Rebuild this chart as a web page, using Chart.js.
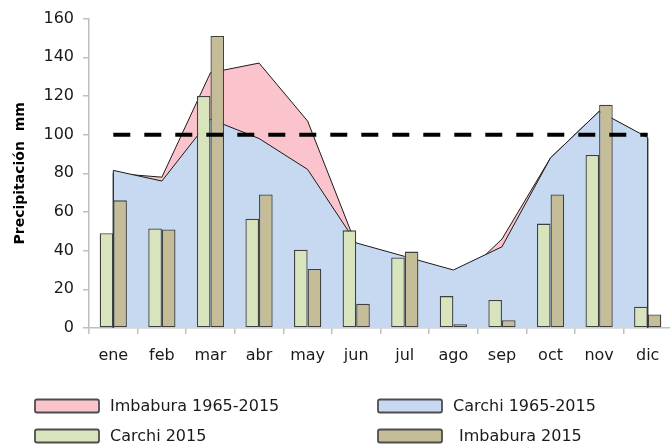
<!DOCTYPE html>
<html>
<head>
<meta charset="utf-8">
<script src="https://cdn.jsdelivr.net/npm/chart.js@4.4.1/dist/chart.umd.min.js"></script>
<style>
html, body { margin: 0; padding: 0; background: #fff; overflow: hidden; }
#wrap { width: 670px; height: 444px; overflow: hidden; }
</style>
</head>
<body>
<div id="wrap"><canvas id="myChart" width="672" height="444"></canvas></div>
<script>
// datos
var meses = ['ene', 'feb', 'mar', 'abr', 'may', 'jun', 'jul', 'ago', 'sep', 'oct', 'nov', 'dic'];
var imbaburaHist = [80, 78, 132, 137, 107, 43, 34, 22, 46, 88, 112, 98];
var carchiHist = [81.5, 76, 108, 98, 82, 44, 37, 30, 42, 88, 112, 98.5];
var carchi2015 = [49, 51.5, 120, 56.5, 40.5, 50.5, 36.5, 16.5, 14.5, 54, 89.5, 11];
var imbabura2015 = [66, 51, 151, 69, 30.5, 12.5, 39.5, 2, 4, 69, 115.5, 7];
var umbral = [100, 100, 100, 100, 100, 100, 100, 100, 100, 100, 100, 100];
var yTicks = [0, 20, 40, 60, 80, 100, 120, 140, 160];

var fuente = 'DejaVu Sans';

// bordes verticales de las areas (inicio y fin)
var areaEdges = {
  id: 'areaEdges',
  afterDatasetDraw: function(chart, args) {
    var ds = chart.data.datasets[args.index];
    if (!ds.areaEdge) return;
    var pts = args.meta.data;
    var y0 = chart.scales.y.getPixelForValue(0);
    var ctx = chart.ctx;
    ctx.save();
    ctx.strokeStyle = ds.borderColor;
    ctx.lineWidth = ds.borderWidth;
    ctx.beginPath();
    ctx.moveTo(pts[0].x, pts[0].y);
    ctx.lineTo(pts[0].x, y0);
    ctx.moveTo(pts[pts.length - 1].x, pts[pts.length - 1].y);
    ctx.lineTo(pts[pts.length - 1].x, y0);
    ctx.stroke();
    ctx.restore();
  }
};

// leyenda en dos columnas
var legendGrid = {
  id: 'legendGrid',
  afterDraw: function(chart) {
    var ctx = chart.ctx;
    var items = [
      {ds: 0, x: 35, y: 406, tx: 11},
      {ds: 1, x: 378, y: 406, tx: 11},
      {ds: 2, x: 35, y: 436, tx: 11},
      {ds: 3, x: 378, y: 436, tx: 17}
    ];
    ctx.save();
    items.forEach(function(it) {
      var ds = chart.data.datasets[it.ds];
      ctx.beginPath();
      ctx.roundRect(it.x, it.y - 6.5, 64, 13, 2);
      ctx.fillStyle = ds.backgroundColor;
      ctx.fill();
      ctx.strokeStyle = '#4d4d4d';
      ctx.lineWidth = 1.8;
      ctx.stroke();
      ctx.fillStyle = '#1a1a1a';
      ctx.font = '16px "' + fuente + '"';
      ctx.textBaseline = 'middle';
      ctx.textAlign = 'left';
      ctx.fillText(ds.label, it.x + 64 + it.tx, it.y + 1);
    });
    ctx.restore();
  }
};

var ctx = document.getElementById('myChart').getContext('2d');
var myChart = new Chart(ctx, {
  type: 'bar',
  data: {
    labels: meses,
    datasets: [{
      type: 'line',
      label: 'Imbabura 1965-2015',
      data: imbaburaHist,
      backgroundColor: '#fbc4cd',
      borderColor: '#1a1a1a',
      borderWidth: 1,
      pointRadius: 0,
      tension: 0,
      fill: 'origin',
      areaEdge: true,
      order: 4
    }, {
      type: 'line',
      label: 'Carchi 1965-2015',
      data: carchiHist,
      backgroundColor: '#c6d9f1',
      borderColor: '#1a1a1a',
      borderWidth: 1,
      pointRadius: 0,
      tension: 0,
      fill: 'origin',
      areaEdge: true,
      order: 3
    }, {
      label: 'Carchi 2015',
      data: carchi2015,
      backgroundColor: '#d8e4bc',
      borderColor: '#404040',
      borderWidth: 1.3,
      borderSkipped: false,
      categoryPercentage: 0.56,
      barPercentage: 1.0,
      order: 1
    }, {
      label: 'Imbabura 2015',
      data: imbabura2015,
      backgroundColor: '#c4bd97',
      borderColor: '#404040',
      borderWidth: 1.3,
      borderSkipped: false,
      categoryPercentage: 0.56,
      barPercentage: 1.0,
      order: 1
    }, {
      type: 'line',
      label: 'umbral',
      data: umbral,
      borderColor: '#000',
      borderWidth: 4,
      borderDash: [17, 14],
      pointRadius: 0,
      fill: false,
      order: 0
    }]
  },
  options: {
    responsive: false,
    animation: false,
    layout: { padding: { top: 14, left: 0, right: 0, bottom: 76 } },
    plugins: {
      legend: { display: false },
      tooltip: { enabled: false }
    },
    scales: {
      x: {
        offset: true,
        grid: { offset: true, drawOnChartArea: false, tickLength: 6, color: '#bfbfbf', lineWidth: 1.5 },
        border: { color: '#bfbfbf', width: 1.5 },
        ticks: { color: '#1a1a1a', font: { family: fuente, size: 16 }, padding: 12, maxRotation: 0 },
        afterFit: function(s) { s.height = 40; }
      },
      y: {
        min: 0,
        max: 160,
        afterBuildTicks: function(s) { s.ticks = yTicks.map(function(v) { return {value: v}; }); },
        grid: { drawOnChartArea: false, tickLength: 6, color: '#bfbfbf', lineWidth: 1.5 },
        border: { color: '#bfbfbf', width: 1.5 },
        ticks: { color: '#1a1a1a', font: { family: fuente, size: 16 }, padding: 9 },
        title: {
          display: true,
          text: 'Precipitación  mm',
          color: '#000',
          font: { family: fuente, size: 14, weight: 'bold' },
          padding: { top: 12, bottom: 0 }
        },
        afterFit: function(s) { s.width = 89; }
      }
    }
  },
  plugins: [areaEdges, legendGrid]
});
</script>
</body>
</html>
